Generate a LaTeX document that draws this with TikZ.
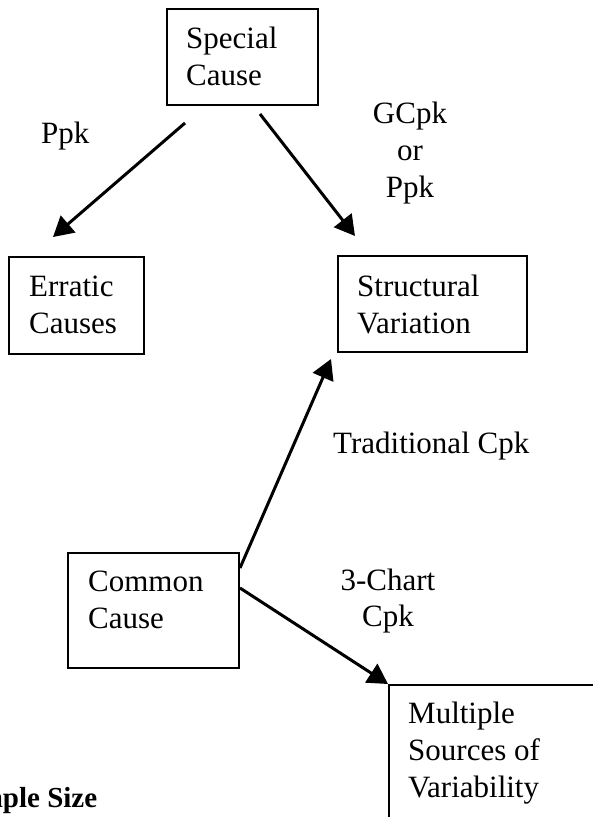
\documentclass[tikz,border=0pt]{standalone}
\usepackage{fontspec}
\setmainfont{Liberation Serif}
\usetikzlibrary{arrows.meta}
\tikzset{
  box/.style={draw, line width=2pt, rectangle, inner sep=0pt, anchor=north west},
  txt/.style={inner sep=0pt, anchor=base west, font=\fontsize{31}{37}\selectfont},
  ctxt/.style={txt, anchor=base},
  btxt/.style={inner sep=0pt, anchor=base west, font=\fontsize{29}{35}\selectfont\bfseries},
  arr/.style={line width=3pt, -{Triangle[length=20pt,width=22pt]}}
}
\begin{document}
\begin{tikzpicture}[x=1pt,y=-1pt]
\useasboundingbox (0,0) rectangle (593,817);
\clip (0,0) rectangle (593,817);
\fill[white] (0,0) rectangle (593,817);
% boxes
\node[box, minimum width=151pt, minimum height=96pt] (sc) at (166,8) {};
\node[box, minimum width=135pt, minimum height=97pt] (ec) at (8,256) {};
\node[box, minimum width=189pt, minimum height=96pt] (sv) at (337,255) {};
\node[box, minimum width=171pt, minimum height=115pt] (cc) at (67,552) {};
\node[box, minimum width=240pt, minimum height=160pt] (ms) at (388,684) {};
% box texts
\node[txt] (sc1) at (186,48) {Special};
\node[txt] (sc2) at (186,85) {Cause};
\node[txt] (ec1) at (29,296) {Erratic};
\node[txt] (ec2) at (29,333) {Causes};
\node[txt] (sv1) at (357,296) {Structural};
\node[txt] (sv2) at (357,333) {Variation};
\node[txt] (cc1) at (88,591) {Common};
\node[txt] (cc2) at (88,628) {Cause};
\node[txt] (ms1) at (408,723) {Multiple};
\node[txt] (ms2) at (408,760) {Sources of};
\node[txt] (ms3) at (408,797) {Variability};
% labels
\node[txt] (l1) at (41,143) {Ppk};
\node[ctxt] (l2a) at (410,123) {GCpk};
\node[ctxt] (l2b) at (410,160) {or};
\node[ctxt] (l2c) at (410,197) {Ppk};
\node[txt] (l3) at (333,453) {Traditional Cpk};
\node[ctxt] (l4a) at (388,590) {3-Chart};
\node[ctxt] (l4b) at (388,626) {Cpk};
\node[btxt] (ss) at (-52,807) {Sample Size};
% arrows
\coordinate (a1s) at (185,123);
\coordinate (a1e) at (53,237);
\coordinate (a2s) at (260,114);
\coordinate (a2e) at (355,236);
\coordinate (a3e) at (331,359);
\draw[arr] (a1s) -- (a1e);
\draw[arr] (a2s) -- (a2e);
\draw[arr] ([yshift=-16pt]cc.north east) -- (a3e);
\draw[arr] ([yshift=-36pt]cc.north east) -- (ms.north west);
\end{tikzpicture}
\end{document}
